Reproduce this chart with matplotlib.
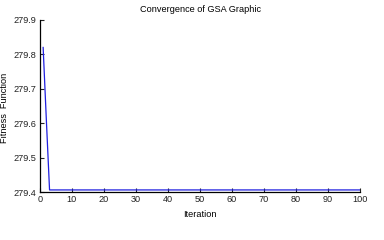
import numpy as np
import matplotlib
matplotlib.use("Agg")
import matplotlib.pyplot as plt

plt.rcParams['font.family'] = ['Liberation Sans', 'DejaVu Sans']

# Convergence data
iterations = np.arange(1, 101)
start_values = [279.82, 279.61]
final_value = 279.406
fitness = np.array(start_values + [final_value] * (len(iterations) - len(start_values)))

xticks = list(range(0, 101, 10))
yticks = [279.4, 279.5, 279.6, 279.7, 279.8, 279.9]

fig = plt.figure(figsize=(3.84, 2.4), dpi=100)
ax = fig.add_axes([0.104, 0.2, 0.834, 0.717])

ax.plot(iterations, fitness, color='#2020e0', linewidth=0.9)

ax.set_xlim(0, 100)
ax.set_ylim(279.4, 279.9)
ax.set_xticks(xticks)
ax.set_yticks(yticks)
ax.set_yticklabels([f"{v:.1f}" for v in yticks])

ax.spines['top'].set_visible(False)
ax.spines['right'].set_visible(False)
ax.spines['left'].set_linewidth(0.9)
ax.spines['bottom'].set_linewidth(0.9)
ax.tick_params(direction='in', length=3, width=0.8, labelsize=6.6, pad=2.5, colors='#222222')

ax.set_xlabel('Iteration', fontsize=6.6, labelpad=4)
ax.set_ylabel('Fitness  Function', fontsize=6.6)
ax.yaxis.set_label_coords(-0.098, 0.49)
ax.set_title('Convergence of GSA Graphic', fontsize=6.6, pad=6)

fig.savefig('out.png', dpi=100)
